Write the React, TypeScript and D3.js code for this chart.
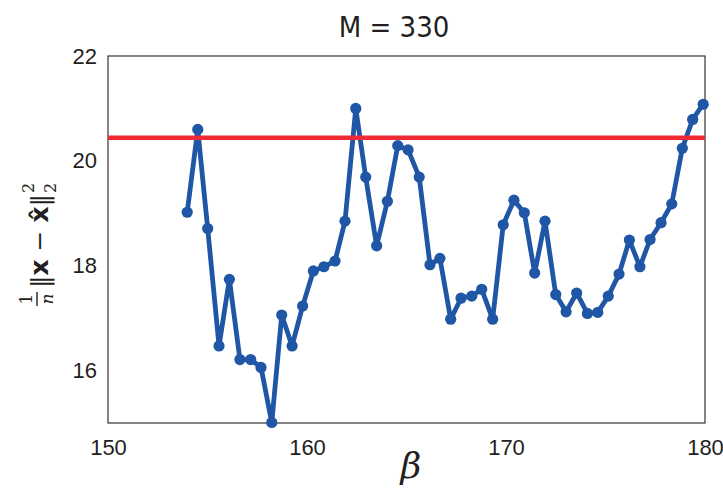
import React, { useEffect, useRef } from 'react';
import * as d3 from 'd3';

const betaValues = [
  153.98, 154.51, 155.01, 155.58, 156.1, 156.63, 157.17, 157.69, 158.23, 158.73,
  159.25, 159.78, 160.32, 160.85, 161.41, 161.91, 162.45, 162.95, 163.5, 164.04,
  164.56, 165.08, 165.64, 166.18, 166.68, 167.22, 167.74, 168.28, 168.78, 169.33,
  169.86, 170.4, 170.92, 171.44, 171.96, 172.5, 173.02, 173.55, 174.09, 174.61,
  175.14, 175.68, 176.2, 176.73, 177.24, 177.79, 178.33, 178.86, 179.38, 179.91,
];
const errorValues = [
  19.02, 20.6, 18.71, 16.47, 17.74, 16.21, 16.21, 16.06, 15.01, 17.06,
  16.47, 17.23, 17.9, 17.98, 18.09, 18.85, 21.0, 19.69, 18.38, 19.23,
  20.29, 20.21, 19.69, 18.02, 18.14, 16.98, 17.38, 17.42, 17.55, 16.98,
  18.78, 19.25, 19.01, 17.86, 18.85, 17.45, 17.12, 17.48, 17.09, 17.11,
  17.42, 17.84, 18.49, 17.98, 18.5, 18.82, 19.18, 20.24, 20.79, 21.08,
];
const threshold = 20.44;
const xTicks = [150, 160, 170, 180];
const yTicks = [16, 18, 20, 22];
const title = 'M = 330';

const W = 723;
const H = 491;
const margin = { top: 56, right: 18, bottom: 68, left: 108 };

const App = () => {
  const ref = useRef<SVGSVGElement>(null);

  useEffect(() => {
    const svg = d3.select(ref.current);
    svg.selectAll('*').remove();

    const width = W - margin.left - margin.right;
    const height = H - margin.top - margin.bottom;

    const x = d3.scaleLinear().domain([150, 180]).range([0, width]);
    const y = d3.scaleLinear().domain([15, 22]).range([height, 0]);

    const chart = svg.append('g')
      .attr('transform', `translate(${margin.left}, ${margin.top})`);

    // axes: labels only, no tick marks
    const xAxis = chart.append('g')
      .attr('transform', `translate(0, ${height})`)
      .call(d3.axisBottom(x).tickValues(xTicks).tickFormat(d3.format('d')).tickSize(0).tickPadding(16));
    const yAxis = chart.append('g')
      .call(d3.axisLeft(y).tickValues(yTicks).tickFormat(d3.format('d')).tickSize(0).tickPadding(11));
    [xAxis, yAxis].forEach((a) => {
      a.select('.domain').remove();
      a.selectAll('text')
        .attr('font-family', 'Liberation Sans, Arial, sans-serif')
        .attr('font-size', 22)
        .attr('fill', '#231f20');
    });

    // frame
    chart.append('rect')
      .attr('width', width)
      .attr('height', height)
      .attr('fill', 'none')
      .attr('stroke', '#333')
      .attr('stroke-width', 1.2);

    const pts = betaValues.map((b, i) => [b, errorValues[i]] as [number, number]);

    chart.append('path')
      .datum(pts)
      .attr('fill', 'none')
      .attr('stroke', '#1f56a5')
      .attr('stroke-width', 4.8)
      .attr('stroke-linejoin', 'round')
      .attr('d', d3.line().x((d) => x(d[0])).y((d) => y(d[1])));

    chart.selectAll('.dot')
      .data(pts)
      .enter().append('circle')
      .attr('class', 'dot')
      .attr('cx', (d) => x(d[0]))
      .attr('cy', (d) => y(d[1]))
      .attr('r', 5.6)
      .attr('fill', '#1f56a5');

    chart.append('line')
      .attr('x1', 0)
      .attr('x2', width)
      .attr('y1', y(threshold))
      .attr('y2', y(threshold))
      .attr('stroke', '#ee2a35')
      .attr('stroke-width', 4.5);

    svg.append('text')
      .attr('x', 394)
      .attr('y', 37)
      .attr('text-anchor', 'middle')
      .attr('font-family', 'Liberation Sans Narrow, DejaVu Sans Condensed, sans-serif')
      .attr('font-size', 29)
      .attr('fill', '#231f20')
      .text(title);

    svg.append('text')
      .attr('x', 411)
      .attr('y', 478)
      .attr('text-anchor', 'middle')
      .attr('font-family', 'DejaVu Serif, serif')
      .attr('font-style', 'italic')
      .attr('font-size', 36)
      .attr('fill', '#231f20')
      .text('β');

    // y label: 1/n ||x - x̂||_2^2, rotated
    const yl = svg.append('g')
      .attr('transform', 'translate(40, 236) rotate(-90)')
      .attr('fill', '#231f20')
      .attr('font-family', 'DejaVu Serif, serif');
    yl.append('text').attr('x', -63).attr('y', -8).attr('text-anchor', 'middle')
      .attr('font-size', 17).text('1');
    yl.append('line').attr('x1', -70).attr('x2', -56).attr('y1', -3).attr('y2', -3)
      .attr('stroke', '#231f20').attr('stroke-width', 1.4);
    yl.append('text').attr('x', -63).attr('y', 13).attr('text-anchor', 'middle')
      .attr('font-size', 17).attr('font-style', 'italic').text('n');
    const main = yl.append('text').attr('x', -52).attr('y', 8).attr('font-size', 25);
    main.append('tspan').text('‖');
    main.append('tspan').attr('font-weight', 'bold').attr('font-family', 'DejaVu Sans, sans-serif').text('x');
    main.append('tspan').text(' − ');
    main.append('tspan').attr('font-weight', 'bold').attr('font-family', 'DejaVu Sans, sans-serif').text('x\u0302');
    main.append('tspan').text('‖');
    const endX = -52 + (main.node() as SVGTextElement).getComputedTextLength();
    yl.append('text').attr('x', endX + 1).attr('y', -6).attr('font-size', 16).text('2');
    yl.append('text').attr('x', endX + 1).attr('y', 16).attr('font-size', 16).text('2');
  }, []);

  return (
    <svg
      ref={ref}
      width={W}
      height={H}
      style={{ position: 'absolute', left: 0, top: 0, background: '#fff' }}
    />
  );
};

export default App;
